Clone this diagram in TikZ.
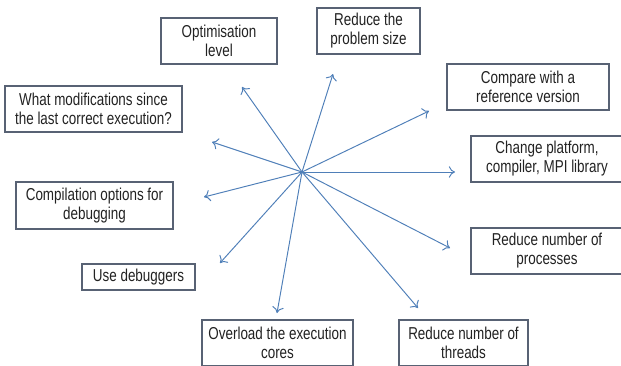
\documentclass[tikz,border=0pt]{standalone}
\usepackage{fontspec}
\setmainfont[FakeStretch=0.78]{Liberation Sans}
\usetikzlibrary{arrows.meta}
\definecolor{boxline}{RGB}{88,98,116}
\definecolor{arrowblue}{RGB}{79,127,184}
\definecolor{txt}{RGB}{34,34,34}
\tikzset{
  idea/.style={draw=boxline, line width=0.6pt, rectangle, align=center, inner sep=0pt,
    minimum height=0.92cm, text=txt, font=\fontsize{9.8}{10.8}\selectfont},
  spoke/.style={-{To[length=3.5pt,width=6.5pt]}, draw=arrowblue, line width=0.55pt}
}
\begin{document}
\begin{tikzpicture}[x=0.02cm, y=-0.02cm]
  \useasboundingbox (0,0) rectangle (621,365);
  \clip (0,0) rectangle (621,365);

  % the boxes
  \node[idea, minimum width=2.32cm] (optlevel) at (219,41) {Optimisation\\level};
  \node[idea, minimum width=2.06cm] (probsize) at (368.5,31) {Reduce the\\problem size};
  \node[idea, minimum width=3.24cm] (refver) at (528,87) {Compare with a\\reference version};
  \node[idea, minimum width=3.04cm] (platform) at (547,159) {Change platform,\\compiler, MPI library};
  \node[idea, minimum width=3.04cm] (procs) at (547,251) {Reduce number of\\processes};
  \node[idea, minimum width=2.58cm] (threads) at (463.5,343) {Reduce number of\\threads};
  \node[idea, minimum width=3.02cm] (overload) at (277.5,343) {Overload the execution\\cores};
  \node[idea, minimum width=2.26cm, minimum height=0.52cm] (debuggers) at (138.5,277) {Use debuggers};
  \node[idea, minimum width=3.14cm, minimum height=0.94cm] (compopts) at (94.5,205.5) {Compilation options for\\debugging};
  \node[idea, minimum width=3.54cm] (modifs) at (93.5,109) {What modifications since\\the last correct execution?};

  % where the arrows stop
  \coordinate (hub) at (302,172);
  \coordinate (toopt) at (242,87);
  \coordinate (tosize) at (333,74);
  \coordinate (toref) at (429,111);
  \coordinate (toplat) at (455,172);
  \coordinate (toproc) at (450,248);
  \coordinate (tothr) at (418,308);
  \coordinate (toover) at (277,313);
  \coordinate (todbg) at (220,263);
  \coordinate (tocomp) at (204,197);
  \coordinate (tomod) at (212,142);

  \foreach \t in {toopt,tosize,toref,toplat,toproc,tothr,toover,todbg,tocomp,tomod}
    \draw[spoke] (hub) -- (\t);
\end{tikzpicture}
\end{document}
